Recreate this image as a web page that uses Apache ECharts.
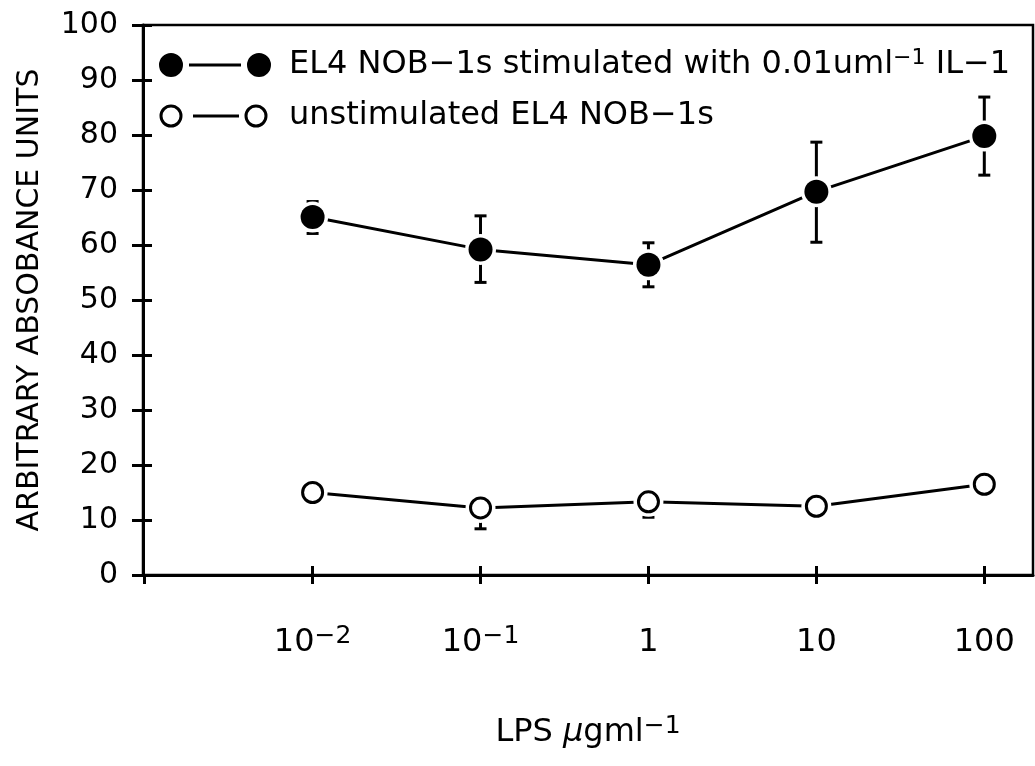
<!DOCTYPE html>
<html>
<head>
<meta charset="utf-8">
<script src="https://cdn.jsdelivr.net/npm/echarts@6/dist/echarts.min.js"></script>
<style>
  html, body { margin: 0; padding: 0; background: #fff; }
  #chart { width: 1035px; height: 766px; }
</style>
</head>
<body>
<div id="chart"></div>
<script>
// ---- data ----
const doses = [0.01, 0.1, 1, 10, 100];                 // LPS µg/ml
const doseLabels = ['10^−2', '10^−1', '1', '10', '100'];
const stimName = 'EL4 NOB−1s stimulated with 0.01uml−1 IL−1';
const unstimName = 'unstimulated EL4 NOB−1s';
const stimMean = [65.1, 59.2, 56.4, 69.7, 79.8];
const stimLow  = [62.1, 53.2, 52.4, 60.5, 72.7];
const stimHigh = [67.9, 65.3, 60.4, 78.7, 86.9];
const unstimMean = [15.0, 12.2, 13.3, 12.5, 16.5];
const unstimLow  = [null, 8.4, 10.5, null, null];
const yTicks = [0, 10, 20, 30, 40, 50, 60, 70, 80, 90, 100];

const FONT = 'DejaVu Sans';

function pts(means) { return doses.map((d, i) => [d, means[i]]); }
function errRows(means, lows, highs) {
  const rows = [];
  doses.forEach((d, i) => {
    if (lows[i] == null && (!highs || highs[i] == null)) return;
    rows.push([d, lows[i] != null ? lows[i] : means[i], highs && highs[i] != null ? highs[i] : means[i]]);
  });
  return rows;
}
function doseLabel(v) {
  const e = Math.round(Math.log10(v));
  const idx = doses.findIndex(d => Math.round(Math.log10(d)) === e);
  if (idx < 0) return '';
  const parts = doseLabels[idx].split('^');
  if (parts.length === 2) return '{b|' + parts[0] + '}{s|' + parts[1] + '}';
  return '{b|' + parts[0] + '}';
}
function renderErr(params, api) {
  const x = api.value(0), lo = api.value(1), hi = api.value(2);
  const pLo = api.coord([x, lo]);
  const pHi = api.coord([x, hi]);
  const w = 6;
  const style = { stroke: '#000', lineWidth: 3 };
  return {
    type: 'group',
    children: [
      { type: 'line', shape: { x1: pLo[0], y1: pLo[1], x2: pHi[0], y2: pHi[1] }, style: style },
      { type: 'line', shape: { x1: pHi[0] - w, y1: pHi[1], x2: pHi[0] + w, y2: pHi[1] }, style: style },
      { type: 'line', shape: { x1: pLo[0] - w, y1: pLo[1], x2: pLo[0] + w, y2: pLo[1] }, style: style }
    ]
  };
}

// legend icons (circle — circle), path box 0..125 x 0..24
const iconFilled = 'path://M0 0 M0 12 A12 12 0 1 0 24 12 A12 12 0 1 0 0 12 Z ' +
  'M30 10.6 L82 10.6 L82 13.4 L30 13.4 Z ' +
  'M88 12 A12 12 0 1 0 112 12 A12 12 0 1 0 88 12 Z M125 24';
const iconOpen = 'path://M0 0 M0.5 12 A11.5 11.5 0 1 0 23.5 12 A11.5 11.5 0 1 0 0.5 12 Z ' +
  'M3.5 12 A8.5 8.5 0 1 1 20.5 12 A8.5 8.5 0 1 1 3.5 12 Z ' +
  'M34 10.6 L80 10.6 L80 13.4 L34 13.4 Z ' +
  'M85.5 12 A11.5 11.5 0 1 0 108.5 12 A11.5 11.5 0 1 0 85.5 12 Z ' +
  'M88.5 12 A8.5 8.5 0 1 1 105.5 12 A8.5 8.5 0 1 1 88.5 12 Z M125 24';

const xMin = Math.pow(10, -3.01), xMax = Math.pow(10, 2.29);
const axisStyle = { color: '#000', width: 3 };

const chart = echarts.init(document.getElementById('chart'), null, { renderer: 'canvas' });
chart.setOption({
  animation: false,
  color: ['#000'],
  textStyle: { fontFamily: FONT, color: '#000' },
  grid: { left: 143, right: 2, top: 25, bottom: 191, show: true, borderColor: '#000', borderWidth: 2.5 },
  legend: {
    orient: 'vertical', left: 154, top: 42,
    itemWidth: 125, itemHeight: 24, itemGap: 15,
    selectedMode: false,
    textStyle: {
      fontFamily: FONT, fontSize: 32, color: '#000', lineHeight: 36,
      rich: {
        t: { fontFamily: FONT, fontSize: 32, lineHeight: 36, color: '#000' },
        s: { fontFamily: FONT, fontSize: 22, lineHeight: 6, verticalAlign: 'top', color: '#000' }
      }
    },
    formatter: function (name) {
      if (name === stimName) return '{t|EL4 NOB−1s stimulated with 0.01uml}{s|−1}{t| IL−1}';
      return '{t|' + name + '}';
    },
    data: [
      { name: stimName, icon: iconFilled, itemStyle: { color: '#000', borderWidth: 0 } },
      { name: unstimName, icon: iconOpen, itemStyle: { color: '#000', borderWidth: 0 } }
    ]
  },
  xAxis: [
    {
      type: 'log', logBase: 10, min: xMin, max: xMax, position: 'bottom',
      axisLine: { lineStyle: axisStyle },
      axisTick: { show: true, inside: false, length: 9, lineStyle: axisStyle, customValues: [0.001].concat(doses) },
      minorTick: { show: false }, splitLine: { show: false },
      axisLabel: {
        customValues: doses, margin: 49, formatter: doseLabel,
        rich: {
          b: { fontFamily: FONT, fontSize: 32, lineHeight: 38, color: '#000' },
          s: { fontFamily: FONT, fontSize: 25, lineHeight: 10, verticalAlign: 'top', color: '#000' }
        }
      },
      name: '{b|LPS }{m|μ}{b|gml}{s|−1}', nameLocation: 'middle', nameGap: 139,
      nameTextStyle: {
        rich: {
          b: { fontFamily: FONT, fontSize: 32, lineHeight: 38, color: '#000' },
          m: { fontFamily: FONT, fontSize: 32, lineHeight: 38, fontStyle: 'italic', color: '#000' },
          s: { fontFamily: FONT, fontSize: 25, lineHeight: 25, verticalAlign: 'top', color: '#000' }
        }
      }
    },
    {
      type: 'log', logBase: 10, min: xMin, max: xMax, position: 'bottom',
      axisLine: { show: false },
      axisTick: { show: true, inside: true, length: 9, lineStyle: axisStyle, customValues: doses },
      minorTick: { show: false }, splitLine: { show: false },
      axisLabel: { show: false }
    }
  ],
  yAxis: [
    {
      type: 'value', min: 0, max: 100, interval: 10, position: 'left',
      axisLine: { show: true, lineStyle: axisStyle },
      axisTick: { show: true, inside: false, length: 11, lineStyle: axisStyle },
      splitLine: { show: false },
      axisLabel: {
        margin: 25, fontFamily: FONT, fontSize: 30, color: '#000',
        customValues: yTicks
      },
      name: 'ARBITRARY ABSOBANCE UNITS', nameLocation: 'middle', nameGap: 98,
      nameTextStyle: { fontFamily: FONT, fontSize: 30, color: '#000' }
    },
    {
      type: 'value', min: 0, max: 100, interval: 10, position: 'left',
      axisLine: { show: false },
      axisTick: { show: true, inside: true, length: 9, lineStyle: axisStyle },
      splitLine: { show: false },
      axisLabel: { show: false }
    }
  ],
  series: [
    { name: stimName, type: 'line', data: pts(stimMean), showSymbol: false, symbol: 'none',
      lineStyle: { color: '#000', width: 3 }, itemStyle: { color: '#000' }, z: 2, silent: true },
    { name: unstimName, type: 'line', data: pts(unstimMean), showSymbol: false, symbol: 'none',
      lineStyle: { color: '#000', width: 3 }, itemStyle: { color: '#000' }, z: 2, silent: true },
    { name: stimName, type: 'custom', renderItem: renderErr, data: errRows(stimMean, stimLow, stimHigh),
      encode: { x: 0, y: [1, 2] }, z: 3, silent: true, itemStyle: { color: '#000' } },
    { name: unstimName, type: 'custom', renderItem: renderErr, data: errRows(unstimMean, unstimLow, null),
      encode: { x: 0, y: [1, 2] }, z: 3, silent: true, itemStyle: { color: '#000' } },
    { name: stimName, type: 'scatter', data: pts(stimMean), symbol: 'circle', symbolSize: 31,
      itemStyle: { color: '#fff', opacity: 1 }, z: 4, silent: true },
    { name: unstimName, type: 'scatter', data: pts(unstimMean), symbol: 'circle', symbolSize: 30,
      itemStyle: { color: '#fff', opacity: 1 }, z: 4, silent: true },
    { name: stimName, type: 'scatter', data: pts(stimMean), symbol: 'circle', symbolSize: 24,
      itemStyle: { color: '#000', opacity: 1 }, z: 5 },
    { name: unstimName, type: 'scatter', data: pts(unstimMean), symbol: 'circle', symbolSize: 20,
      itemStyle: { color: '#fff', borderColor: '#000', borderWidth: 3, opacity: 1 }, z: 5 }
  ]
});
</script>
</body>
</html>
